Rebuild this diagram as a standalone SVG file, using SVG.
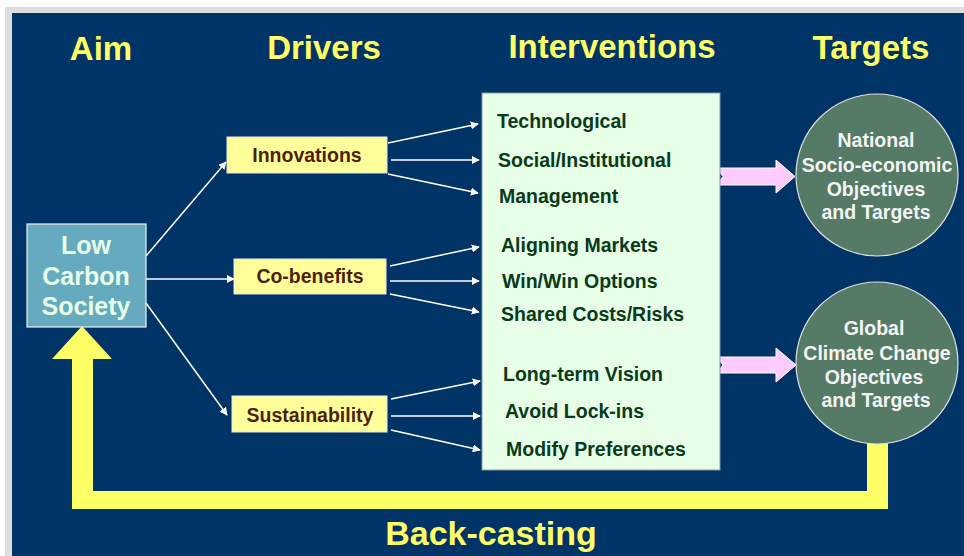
<svg xmlns="http://www.w3.org/2000/svg" width="964" height="556" viewBox="0 0 964 556">
<defs>
<style>
.hdr{font-family:"Liberation Sans",Arial,sans-serif;font-weight:bold;font-size:33px;fill:#FFFF66;text-anchor:middle}
.drv{fill:#FFFF99;stroke:#E8E8E8;stroke-width:1}
.drvt{font-family:"Liberation Sans",Arial,sans-serif;font-weight:bold;font-size:19.5px;fill:#4D1F0A;text-anchor:middle}
.itv{font-family:"Liberation Sans",Arial,sans-serif;font-weight:bold;font-size:19.5px;fill:#0A3A1A}
.lcs{font-family:"Liberation Sans",Arial,sans-serif;font-weight:bold;font-size:25px;fill:#E6FFE6;text-anchor:middle}
.tgt{fill:#557A66;stroke:#E0E0E0;stroke-width:1.2}
.tgtt{font-family:"Liberation Sans",Arial,sans-serif;font-weight:bold;font-size:19.5px;fill:#F4F4F4;text-anchor:middle}
.con{stroke:#FFFFFF;stroke-width:1.5;fill:none;marker-end:url(#ah)}
.pink{fill:#FFCCFF;stroke:#FFFFFF;stroke-width:1}
</style>
<marker id="ah" viewBox="0 0 10 10" refX="9" refY="5" markerWidth="8" markerHeight="8" markerUnits="userSpaceOnUse" orient="auto">
<path d="M0,0 L10,5 L0,10 z" fill="#FFFFFF"/>
</marker>
</defs>
<rect x="0" y="0" width="964" height="556" fill="#FFFFFF"/>
<rect x="5" y="7" width="959" height="549" fill="#DDDDDD"/>
<rect x="12" y="13" width="952" height="543" fill="#003366"/>

<g id="headers">
<text class="hdr" x="101" y="60">Aim</text>
<text class="hdr" x="324" y="59">Drivers</text>
<text class="hdr" x="612" y="58">Interventions</text>
<text class="hdr" x="871" y="59">Targets</text>
</g>

<g id="connectors">
<line class="con" x1="146" y1="256" x2="226" y2="162"/>
<line class="con" x1="146" y1="279" x2="234" y2="279"/>
<line class="con" x1="146" y1="303" x2="227" y2="415"/>
<line class="con" x1="388" y1="143" x2="478" y2="124"/>
<line class="con" x1="391" y1="160" x2="479" y2="160"/>
<line class="con" x1="388" y1="174" x2="478" y2="193"/>
<line class="con" x1="390" y1="266" x2="479" y2="247"/>
<line class="con" x1="390" y1="281" x2="479" y2="281"/>
<line class="con" x1="390" y1="294" x2="479" y2="312"/>
<line class="con" x1="391" y1="399" x2="480" y2="381"/>
<line class="con" x1="391" y1="416" x2="480" y2="416"/>
<line class="con" x1="391" y1="430" x2="480" y2="450"/>
<path class="pink" d="M717,168 L776,168 L776,160 L795,176.5 L776,193 L776,185 L717,185 L723,176.5 Z"/>
<path class="pink" d="M717,357 L776,357 L776,348 L796,365 L776,382 L776,373 L717,373 L723,365 Z"/>
<path id="backcast" d="M867,440 L888,440 L888,509 L72,509 L72,359 L52,359 L82,326 L112,359 L93,359 L93,491 L867,491 Z" fill="#FFFF66"/>
</g>

<g id="lcs">
<rect x="27" y="224" width="119" height="103" fill="#66AAC0" stroke="#F0F0F0" stroke-width="1.2"/>
<text class="lcs" x="86" y="254">Low</text>
<text class="lcs" x="86" y="285">Carbon</text>
<text class="lcs" x="86" y="315">Society</text>
</g>

<g id="innovations">
<rect class="drv" x="227" y="137" width="160" height="36"/>
<text class="drvt" x="307" y="162">Innovations</text>
</g>
<g id="cobenefits">
<rect class="drv" x="234" y="259" width="152" height="35"/>
<text class="drvt" x="310" y="283">Co-benefits</text>
</g>
<g id="sustainability">
<rect class="drv" x="232" y="396" width="155" height="36"/>
<text class="drvt" x="310" y="422">Sustainability</text>
</g>

<g id="interventions">
<rect x="482" y="93" width="238" height="377" fill="#E6FFE6" stroke="#8A9AB0" stroke-width="1"/>
<text class="itv" x="497" y="128">Technological</text>
<text class="itv" x="498" y="167">Social/Institutional</text>
<text class="itv" x="499" y="203">Management</text>
<text class="itv" x="501" y="252">Aligning Markets</text>
<text class="itv" x="502" y="288">Win/Win Options</text>
<text class="itv" x="501" y="321">Shared Costs/Risks</text>
<text class="itv" x="503" y="381">Long-term Vision</text>
<text class="itv" x="505" y="418">Avoid Lock-ins</text>
<text class="itv" x="506" y="456">Modify Preferences</text>
</g>

<g id="national">
<circle class="tgt" cx="877" cy="175" r="81"/>
<text class="tgtt" x="876" y="147">National</text>
<text class="tgtt" x="877" y="172">Socio-economic</text>
<text class="tgtt" x="876" y="196">Objectives</text>
<text class="tgtt" x="876" y="219">and Targets</text>
</g>
<g id="global">
<circle class="tgt" cx="877" cy="363" r="81"/>
<text class="tgtt" x="874" y="335">Global</text>
<text class="tgtt" x="877" y="360">Climate Change</text>
<text class="tgtt" x="874" y="384">Objectives</text>
<text class="tgtt" x="876" y="407">and Targets</text>
</g>

<text id="backcasting" x="491" y="545" font-family="Liberation Sans, Arial, sans-serif" font-weight="bold" font-size="34" fill="#FFFF66" text-anchor="middle">Back-casting</text>
</svg>
